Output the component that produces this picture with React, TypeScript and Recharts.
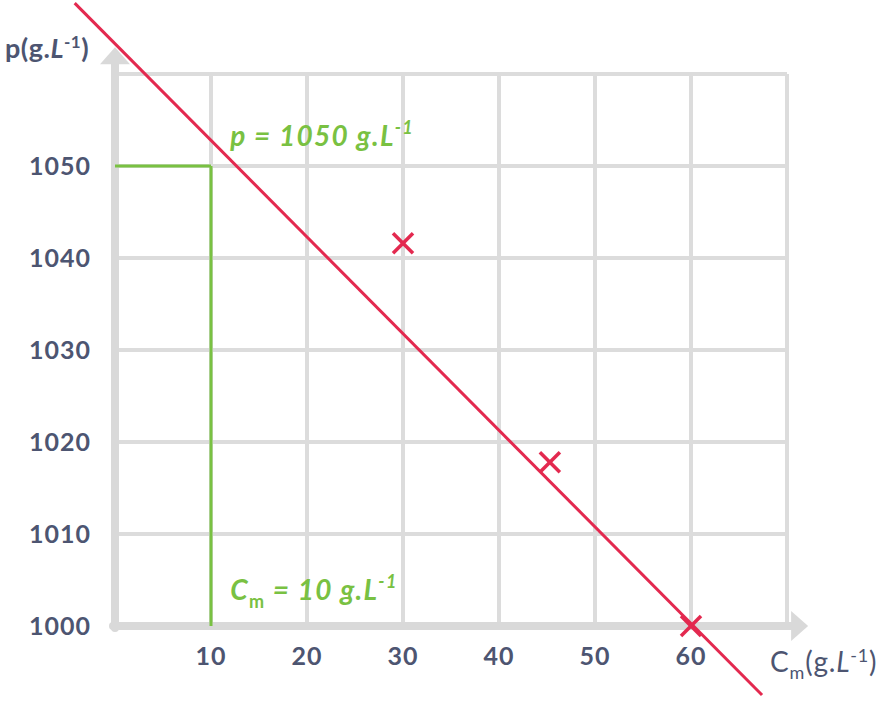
import React from 'react';
import { ScatterChart, Scatter, XAxis, YAxis, CartesianGrid, ReferenceLine, ReferenceDot } from 'recharts';

// ---- data ----
const xTicks = [0, 10, 20, 30, 40, 50, 60, 70];
const yTicks = [1000, 1010, 1020, 1030, 1040, 1050, 1060];
const xLabelledTicks = [10, 20, 30, 40, 50, 60];
const yLabelledTicks = [1000, 1010, 1020, 1030, 1040, 1050];

const measuredCm = [30, 45.3, 60];
const measuredRho = [1041.6, 1017.8, 1000];

const fitLineCm = [-4.2, 67.4];
const fitLineRho = [1067.7, 992.5];

const readCm = 10;
const readRho = 1050;

const xAxisEnd = 72.2;
const yAxisEnd = 1062.9;

const scatterData = measuredCm.map((x, i) => ({ x, y: measuredRho[i] }));

// ---- styles ----
const FONT = 'Lato, "Noto Sans", sans-serif';
const SLATE = '#4d5571';
const GREEN = '#79c142';
const RED = '#e3294f';
const GRID = '#dcdcdc';
const AXIS = '#d9d9d9';

const ArrowAxis = (props: any) => {
  const { x1, y1, x2, y2 } = props;
  const dx = x2 - x1;
  const dy = y2 - y1;
  const len = Math.hypot(dx, dy) || 1;
  const ux = dx / len;
  const uy = dy / len;
  const headL = 17;
  const headW = 15;
  const bx = x2 - ux * headL;
  const by = y2 - uy * headL;
  const px = -uy;
  const py = ux;
  return (
    <g>
      <line x1={x1 - ux * 2} y1={y1 - uy * 2} x2={bx + ux * 1} y2={by + uy * 1} stroke={AXIS} strokeWidth={8} strokeLinecap="round" />
      <polygon
        points={`${x2},${y2} ${bx + px * headW},${by + py * headW} ${bx - px * headW},${by - py * headW}`}
        fill={AXIS}
      />
    </g>
  );
};

const Cross = (props: any) => {
  const { cx, cy } = props;
  const s = 10;
  return (
    <g stroke={RED} strokeWidth={3.5}>
      <line x1={cx - s} y1={cy - s} x2={cx + s} y2={cy + s} />
      <line x1={cx - s} y1={cy + s} x2={cx + s} y2={cy - s} />
    </g>
  );
};

const RhoNote = (props: any) => {
  const { cx, cy } = props;
  return (
    <text x={cx} y={cy} fill={GREEN} fontFamily={FONT} fontSize={28} fontWeight={700} fontStyle="italic" letterSpacing={1.3}>
      p = 1050 g.L
      <tspan dy={-12} fontSize={18}>-1</tspan>
    </text>
  );
};

const CmNote = (props: any) => {
  const { cx, cy } = props;
  return (
    <text x={cx} y={cy} fill={GREEN} fontFamily={FONT} fontSize={28} fontWeight={700} fontStyle="italic" letterSpacing={1.3}>
      C
      <tspan dy={8} fontSize={18} fontStyle="normal">m</tspan>
      <tspan dy={-8}> = 10 g.L</tspan>
      <tspan dy={-12} fontSize={18}>-1</tspan>
    </text>
  );
};

const YTitle = (props: any) => {
  const vb = props.viewBox || { x: 0, y: 74 };
  return (
    <text x={vb.x + 5} y={vb.y - 16} fill={SLATE} fontFamily={FONT} fontSize={27} fontWeight={700} letterSpacing={0.5}>
      p(g.
      <tspan fontStyle="italic">L</tspan>
      <tspan dy={-10} fontSize={17}>-1</tspan>
      <tspan dy={10}>)</tspan>
    </text>
  );
};

const XTitle = (props: any) => {
  const vb = props.viewBox || { x: 115, y: 626, width: 672 };
  return (
    <text x={vb.x + vb.width - 17} y={vb.y + 46} fill={SLATE} fontFamily={FONT} fontSize={28} fontWeight={400} letterSpacing={0.8}>
      C
      <tspan dy={7} fontSize={18}>m</tspan>
      <tspan dy={-7}>(g.</tspan>
      <tspan fontStyle="italic">L</tspan>
      <tspan dy={-10} fontSize={18}>-1</tspan>
      <tspan dy={10}>)</tspan>
    </text>
  );
};

export default function App() {
  return (
    <div style={{ position: 'absolute', left: 0, top: 0, width: 884, height: 706, background: '#fff' }}>
      <ScatterChart width={884} height={706} margin={{ top: 74, right: 97, bottom: 50, left: 0 }}>
        <CartesianGrid stroke={GRID} strokeWidth={4} />
        <XAxis
          type="number"
          dataKey="x"
          domain={[0, 70]}
          ticks={xTicks}
          interval={0}
          height={30}
          axisLine={false}
          tickLine={false}
          tickSize={0}
          tickMargin={21}
          tickFormatter={(v: number) => (xLabelledTicks.includes(v) ? String(v) : '')}
          tick={{ fill: SLATE, fontSize: 25, fontWeight: 700, fontFamily: FONT, letterSpacing: 1 }}
          label={{ content: <XTitle /> } as any}
        />
        <YAxis
          type="number"
          dataKey="y"
          domain={[1000, 1060]}
          ticks={yTicks}
          interval={0}
          width={115}
          axisLine={false}
          tickLine={false}
          tickSize={0}
          tickMargin={24}
          tickFormatter={(v: number) => (yLabelledTicks.includes(v) ? String(v) : '')}
          tick={{ fill: SLATE, fontSize: 25, fontWeight: 700, fontFamily: FONT, letterSpacing: 1 }}
          label={{ content: <YTitle /> } as any}
        />
        <ReferenceLine
          segment={[{ x: 0, y: 1000 }, { x: 0, y: yAxisEnd }]}
          ifOverflow="visible"
          shape={ArrowAxis}
        />
        <ReferenceLine
          segment={[{ x: 0, y: 1000 }, { x: xAxisEnd, y: 1000 }]}
          ifOverflow="visible"
          shape={ArrowAxis}
        />
        <ReferenceLine
          segment={[{ x: 0, y: readRho }, { x: readCm, y: readRho }]}
          ifOverflow="visible"
          stroke={GREEN}
          strokeWidth={3}
        />
        <ReferenceLine
          segment={[{ x: readCm, y: readRho }, { x: readCm, y: 1000 }]}
          ifOverflow="visible"
          stroke={GREEN}
          strokeWidth={3}
        />
        <ReferenceDot x={12} y={1052.2} r={0} ifOverflow="visible" shape={RhoNote} />
        <ReferenceDot x={12} y={1002.8} r={0} ifOverflow="visible" shape={CmNote} />
        <ReferenceLine
          segment={[{ x: fitLineCm[0], y: fitLineRho[0] }, { x: fitLineCm[1], y: fitLineRho[1] }]}
          ifOverflow="visible"
          stroke={RED}
          strokeWidth={3}
        />
        <Scatter data={scatterData} shape={Cross} isAnimationActive={false} />
      </ScatterChart>
    </div>
  );
}
